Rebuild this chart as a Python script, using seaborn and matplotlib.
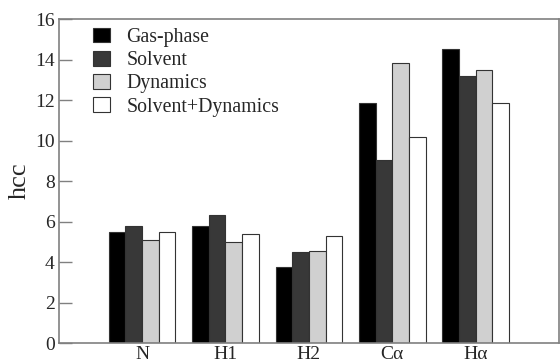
import matplotlib
matplotlib.use("Agg")
import matplotlib.pyplot as plt
import seaborn as sns
import pandas as pd
from matplotlib.patches import Patch

categories = ["N", "H1", "H2", "Cα", "Hα"]
series = ["Gas-phase", "Solvent", "Dynamics", "Solvent+Dynamics"]
gas_phase = [5.48, 5.79, 3.75, 11.85, 14.52]
solvent = [5.79, 6.33, 4.49, 9.05, 13.2]
dynamics = [5.1, 4.98, 4.57, 13.84, 13.47]
solvent_dynamics = [5.51, 5.39, 5.29, 10.17, 11.87]
colors = ["#000000", "#383838", "#d0d0d0", "#ffffff"]

rows = []
for name, vals in zip(series, [gas_phase, solvent, dynamics, solvent_dynamics]):
    for c, v in zip(categories, vals):
        rows.append({"cat": c, "series": name, "hcc": v})
df = pd.DataFrame(rows)

sns.set_theme(style="white")
plt.rcParams["font.family"] = ["Liberation Serif", "DejaVu Serif"]

fig = plt.figure(figsize=(5.6, 3.6), dpi=100)
ax = fig.add_axes([0.105, 0.047, 0.893, 0.9])

sns.barplot(data=df, x="cat", y="hcc", hue="series", order=categories,
            hue_order=series, palette=colors, width=0.8, saturation=1,
            edgecolor="#333333", linewidth=0.8, ax=ax, legend=False)

ax.set_xlim(-1.0, 5.0)
ax.set_ylim(0, 16)
ax.set_yticks(range(0, 17, 2))
ax.set_xlabel("")
ax.set_ylabel("hcc", fontsize=19, labelpad=3)
for s in ax.spines.values():
    s.set_color("#808080")
    s.set_linewidth(1.2)
ax.tick_params(axis="y", direction="in", length=9, width=1.0, color="#808080",
               labelsize=14, pad=3, left=True)
ax.tick_params(axis="x", length=0, labelsize=14, pad=2)

handles = [Patch(facecolor=c, edgecolor="#333333", linewidth=0.8) for c in colors]
ax.legend(handles, series, loc="upper left", bbox_to_anchor=(0.044, 1.01),
          frameon=False, fontsize=14.3, handlelength=0.85, handleheight=0.76,
          labelspacing=0.2, handletextpad=0.85, borderaxespad=0.2)

fig.savefig("out.png", dpi=100)
